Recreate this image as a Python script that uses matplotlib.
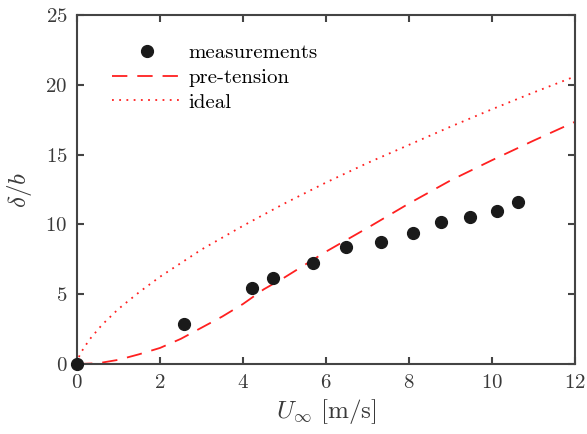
import matplotlib
matplotlib.use('Agg')
import matplotlib.pyplot as plt

plt.rcParams['font.family'] = 'serif'
plt.rcParams['font.serif'] = ['cmr10']
plt.rcParams['mathtext.fontset'] = 'cm'
plt.rcParams['axes.formatter.use_mathtext'] = True

# measured deflection
u_meas = [0.0, 2.58, 4.22, 4.72, 5.69, 6.48, 7.33, 8.10, 8.77, 9.47, 10.12, 10.63]
d_meas = [0.0, 2.87, 5.44, 6.16, 7.23, 8.38, 8.74, 9.38, 10.17, 10.53, 10.96, 11.60]

# pre-tension model
u_pre = [0, 0.5, 1, 1.5, 2, 2.5, 3, 3.5, 4, 4.5, 5, 6, 7, 8, 9, 10, 11, 12]
d_pre = [0, 0.05, 0.3, 0.7, 1.15, 1.8, 2.6, 3.4, 4.3, 5.35, 6.2, 8.05, 9.75, 11.5, 13.15, 14.6, 16.0, 17.35]

# ideal model
u_ideal = [0, 0.03, 0.1, 0.3, 0.6, 1, 1.5, 2, 3, 4, 5, 6, 7, 8, 9, 10, 11, 12]
d_ideal = [0, 0.4, 0.85, 1.75, 2.8, 3.95, 5.15, 6.25, 8.2, 9.9, 11.5, 13.0, 14.4, 15.7, 17.0, 18.25, 19.45, 20.6]

ink = '#444444'
txt = '#3a3a3a'

fig = plt.figure(figsize=(5.87, 4.34), dpi=100)
ax = fig.add_axes([0.1312, 0.1613, 0.8484, 0.8041])

ax.plot(u_meas, d_meas, 'o', color='#1a1a1a', markersize=8.5, label='measurements', zorder=3, clip_on=False)
ax.plot(u_pre, d_pre, color='#ff2020', lw=1.3, dashes=(8.5, 5.5), label='pre-tension')
ax.plot(u_ideal, d_ideal, color='#ff2020', lw=1.3, linestyle=(0, (1, 3)), label='ideal')

ax.set_xlim(0, 12)
ax.set_ylim(0, 25)
ax.set_xticks([0, 2, 4, 6, 8, 10, 12])
ax.set_yticks([0, 5, 10, 15, 20, 25])

for s in ax.spines.values():
    s.set_color(ink)
    s.set_linewidth(1.5)
ax.tick_params(direction='in', length=5, width=1.5, color=ink, labelcolor=txt,
               labelsize=15, top=True, right=True, pad=7)

ax.set_xlabel(r'$U_\infty$ [m/s]', fontsize=18, color=txt, labelpad=4)
ax.set_ylabel(r'$\delta/b$', fontsize=18, color=txt, labelpad=8)

ax.legend(loc='upper left', bbox_to_anchor=(0.033, 0.972), frameon=False, fontsize=15,
          numpoints=1, handlelength=3.3, handletextpad=0.35, labelspacing=0.3)

fig.savefig('out.png', dpi=100)
